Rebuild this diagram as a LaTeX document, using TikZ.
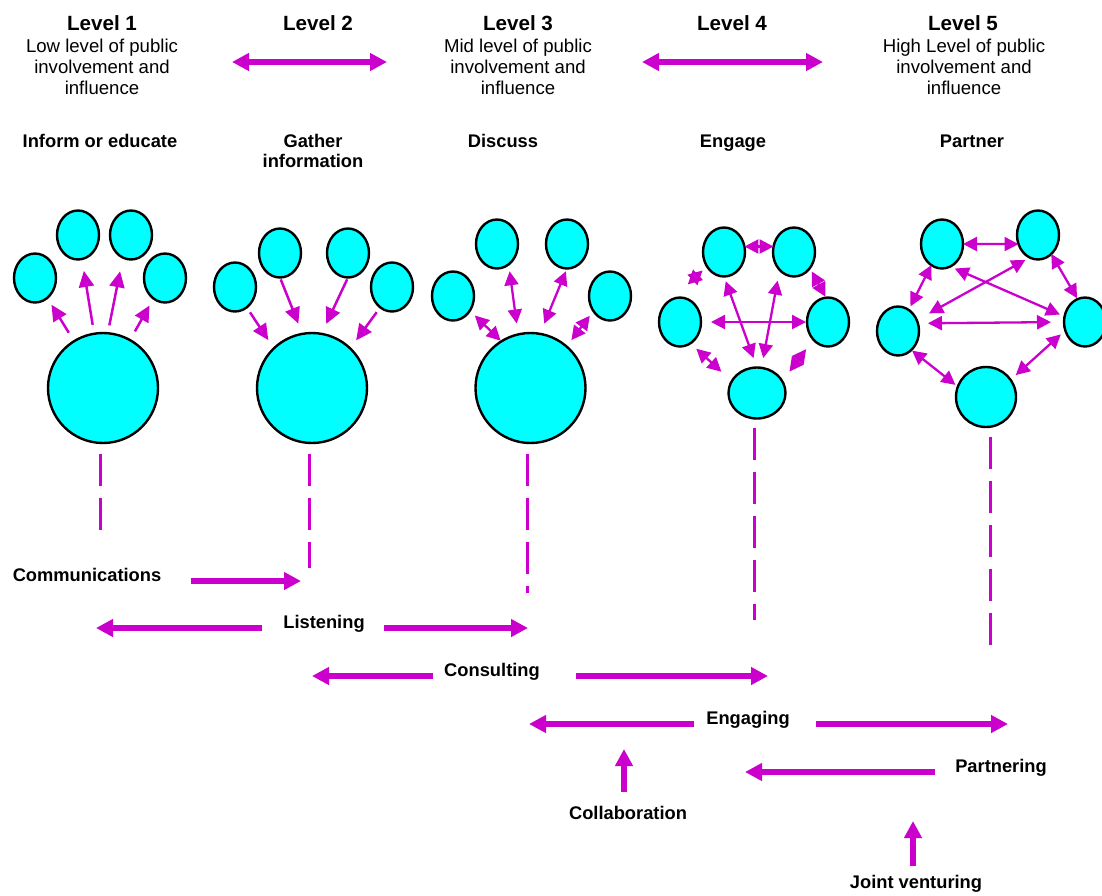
\documentclass[tikz,border=0pt]{standalone}
\usepackage{fontspec}
\setmainfont{Liberation Sans}
\usetikzlibrary{arrows.meta,shapes.geometric}
\definecolor{mag}{HTML}{CC00CC}
\definecolor{cy}{HTML}{00FFFF}
\begin{document}
\begin{tikzpicture}[x=1pt,y=-1pt,
  bigc/.style={circle,draw=black,line width=2.4pt,fill=cy,minimum size=110pt,inner sep=0pt,outer sep=0pt},
  smc/.style={ellipse,draw=black,line width=2.4pt,fill=cy,minimum width=42pt,minimum height=49pt,inner sep=0pt,outer sep=0pt},
  one/.style={draw=mag,line width=2.5pt,-{Triangle[length=16pt,width=15pt]}},
  two/.style={draw=mag,line width=2.3pt,{Triangle[length=14pt,width=14pt]}-{Triangle[length=14pt,width=14pt]}},
  bigarr/.style={draw=mag,line width=5.5pt,-{Triangle[length=17pt,width=17pt]}},
  bigtwo/.style={draw=mag,line width=5.5pt,{Triangle[length=17pt,width=17pt]}-{Triangle[length=17pt,width=17pt]}},
  dashln/.style={draw=mag,line width=3pt,dash pattern=on 32pt off 12pt},
  head/.style={font=\bfseries\fontsize{20.6}{24}\selectfont,inner sep=0pt,anchor=base},
  desc/.style={font=\fontsize{18.6}{21}\selectfont,inner sep=0pt,anchor=base},
  lab/.style={font=\bfseries\fontsize{18.3}{21}\selectfont,inner sep=0pt,anchor=base},
]
\useasboundingbox (0,0) rectangle (1102,895);
\clip (0,0) rectangle (1102,895);
\fill[white] (0,0) rectangle (1102,895);

% headings
\node[head] (h1) at (102,30) {Level 1};
\node[head] (h2) at (318,30) {Level 2};
\node[head] (h3) at (518,30) {Level 3};
\node[head] (h4) at (732,30) {Level 4};
\node[head] (h5) at (963,30) {Level 5};
\node[desc] (d11) at (102,52) {Low level of public};
\node[desc] (d12) at (102,73) {involvement and};
\node[desc] (d13) at (102,94) {influence};
\node[desc] (d31) at (518,52) {Mid level of public};
\node[desc] (d32) at (518,73) {involvement and};
\node[desc] (d33) at (518,94) {influence};
\node[desc] (d51) at (964,52) {High Level of public};
\node[desc] (d52) at (964,73) {involvement and};
\node[desc] (d53) at (964,94) {influence};
\node[lab] (act1) at (100,147) {Inform or educate};
\node[lab] (act2a) at (313,147) {Gather};
\node[lab] (act2b) at (313,167) {information};
\node[lab] (act3) at (503,147) {Discuss};
\node[lab] (act4) at (733,147) {Engage};
\node[lab] (act5) at (972,147) {Partner};

\coordinate (ta1) at (232,62);
\coordinate (ta2) at (387,62);
\coordinate (ta3) at (642,62);
\coordinate (ta4) at (823,62);
\draw[bigtwo] (ta1) -- (ta2);
\draw[bigtwo] (ta3) -- (ta4);

% Level 1
\node[bigc] (b1) at (103,388) {};
\node[smc] (s11) at (35,278) {};
\node[smc] (s12) at (78,235) {};
\node[smc] (s13) at (131,235) {};
\node[smc] (s14) at (165,278) {};
\draw[one, shorten <=10pt, shorten >=8pt] (b1) -- (s11);
\draw[one, shorten <=9pt, shorten >=12pt] (b1) -- (s12);
\draw[one, shorten <=8pt, shorten >=14pt] (b1.85) -- (s13.250);
\draw[one, shorten <=10pt, shorten >=8pt] (b1) -- (s14);

% Level 2
\node[bigc] (b2) at (312,388) {};
\node[smc] (s21) at (235,287) {};
\node[smc] (s22) at (280,253) {};
\node[smc] (s23) at (348,253) {};
\node[smc] (s24) at (392,287) {};
\draw[one, shorten <=6pt, shorten >=10pt] (s21.300) -- (b2.134);
\draw[one, shorten <=2pt, shorten >=11pt] (s22.south) -- (b2.100);
\draw[one, shorten <=2pt, shorten >=11pt] (s23.south) -- (b2.80);
\draw[one, shorten <=6pt, shorten >=10pt] (s24.240) -- (b2.46);

% Level 3
\node[bigc] (b3) at (530.5,388) {};
\node[smc] (s31) at (453,296) {};
\node[smc] (s32) at (497,244) {};
\node[smc] (s33) at (567,244) {};
\node[smc] (s34) at (610,296) {};
\draw[two, shorten <=7pt, shorten >=1pt] (s31.319) -- (b3.122);
\draw[two, shorten <=7pt, shorten >=11pt] (s32.300) -- (b3.103);
\draw[two, shorten <=3pt, shorten >=11pt] (s33.south) -- (b3.80);
\draw[two, shorten <=6pt, shorten >=8pt] (s34.222) -- (b3.49);

% Level 4
\node[smc] (t41) at (724,252) {};
\node[smc] (t42) at (794,252) {};
\node[smc] (t43) at (680,322) {};
\node[smc] (t44) at (828,322) {};
\node[smc, minimum width=57pt, minimum height=51pt] (t45) at (757,393) {};
\draw[two] (t41.15) -- (t42.165);
\draw[two, shorten <=6pt, shorten >=22pt] (t41.220) -- (t43.110);
\draw[two, shorten <=4pt, shorten >=1pt] (t42.315) -- (t44.95);
\draw[two, shorten <=10pt, shorten >=1pt] (t43.east) -- (t44.west);
\draw[two, shorten <=5pt, shorten >=10pt] (t41.south) -- (t45.north);
\draw[two, shorten <=11pt, shorten >=10pt] (t42.231) -- (t45.80);
\draw[two, shorten <=8pt, shorten >=14pt] (t43.296) -- (t45.155);
\draw[two, shorten <=12pt, shorten >=12pt] (t44.230) -- (t45.25);

% Level 5
\node[smc] (t51) at (942,244) {};
\node[smc] (t52) at (1038,235) {};
\node[smc] (t53) at (898,331) {};
\node[smc] (t54) at (1085,322) {};
\node[smc, minimum width=60pt, minimum height=60pt] (t55) at (986,397) {};
\draw[two] (t51.east) -- (t52.205);
\draw[two, shorten >=1pt] (t52.305) -- (t54.108);
\draw[two, shorten >=4pt] (t51) -- (t53);
\draw[two, shorten <=14pt, shorten >=5pt] (t53.30) -- (t52.250);
\draw[two, shorten <=5pt, shorten >=5pt] (t51.290) -- (t54.165);
\draw[two, shorten <=10pt, shorten >=13pt] (t53.21) -- (t54.west);
\draw[two, shorten <=1pt, shorten >=3pt] (t53.305) -- (t55.160);
\draw[two, shorten <=6pt, shorten >=7pt] (t54.203) -- (t55.35);

% dashed drop lines
\coordinate (k1a) at (100,454); \coordinate (k1b) at (100,530);
\coordinate (k2a) at (309,454); \coordinate (k2b) at (309,568);
\coordinate (k3a) at (527,454); \coordinate (k3b) at (527,593);
\coordinate (k4a) at (754,428); \coordinate (k4b) at (754,620);
\coordinate (k5a) at (990,437); \coordinate (k5b) at (990,646);
\draw[dashln] (k1a) -- (k1b);
\draw[dashln] (k2a) -- (k2b);
\draw[dashln] (k3a) -- (k3b);
\draw[dashln] (k4a) -- (k4b);
\draw[dashln] (k5a) -- (k5b);

% bottom labels
\node[lab] (comm) at (87,581) {Communications};
\node[lab] (lis) at (324,628) {Listening};
\node[lab] (con) at (492,676) {Consulting};
\node[lab] (eng) at (748,724) {Engaging};
\node[lab] (par) at (1001,772) {Partnering};
\node[lab] (col) at (628,819) {Collaboration};
\node[lab] (jv) at (916,888) {Joint venturing};

\coordinate (commtip) at (301,581);
\coordinate (lisL) at (96,628);
\coordinate (lisR) at (528,628);
\coordinate (conL) at (312,676);
\coordinate (conR) at (768,676);
\coordinate (engL) at (529,724);
\coordinate (engR) at (1008,724);
\coordinate (parL) at (745,772);
\coordinate (colT) at (624,749);
\coordinate (jvT) at (913,821);

\draw[bigarr, shorten <=30pt] (comm.base east) -- (commtip);
\draw[bigarr, shorten <=21pt] (lis.base west) -- (lisL);
\draw[bigarr, shorten <=19pt] (lis.base east) -- (lisR);
\draw[bigarr, shorten <=11pt] (con.base west) -- (conL);
\draw[bigarr, shorten <=36pt] (con.base east) -- (conR);
\draw[bigarr, shorten <=12pt] (eng.base west) -- (engL);
\draw[bigarr, shorten <=26pt] (eng.base east) -- (engR);
\draw[bigarr, shorten <=20pt] (par.base west) -- (parL);
\draw[bigarr, shorten <=14pt] ([xshift=-4pt]col.north) -- (colT);
\draw[bigarr, shorten <=9pt] ([xshift=-3pt]jv.north) -- (jvT);
\end{tikzpicture}
\end{document}
